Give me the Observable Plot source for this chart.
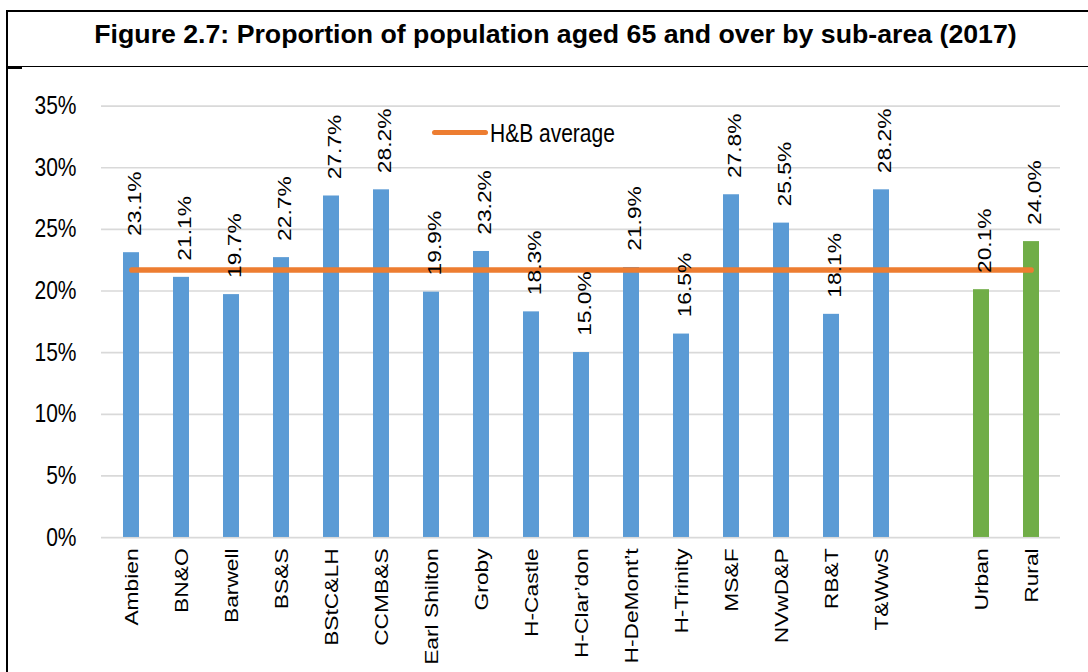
<!DOCTYPE html>
<html>
<head>
<meta charset="utf-8">
<script src="https://cdn.jsdelivr.net/npm/d3@7"></script>
<script src="https://cdn.jsdelivr.net/npm/@observablehq/plot@0.6"></script>
<style>
  body { margin: 0; width: 1088px; height: 672px; overflow: hidden; background: #fff; position: relative;
         font-family: "Liberation Sans", Arial, sans-serif; }
  #frame { position: absolute; left: 6px; top: 10px; width: 1200px; height: 800px;
           border-left: 2px solid #000; border-top: 2px solid #000; }
  #rule { position: absolute; left: 6px; top: 65.5px; width: 1200px; height: 1.5px; background: #000; }
  #notch { position: absolute; left: 6px; top: 66px; width: 16px; height: 2.5px; background: #000; }
  #title { position: absolute; left: 8px; width: 1095px; top: 21px; text-align: center;
           font-weight: bold; font-size: 26.7px; line-height: 26.7px; color: #000; white-space: nowrap; }
  #chart { position: absolute; left: 0; top: 68px; }
  #chart svg { transform: scaleY(1.2); transform-origin: 0 0; display: block; }
  #legend { position: absolute; left: 432px; top: 122px; height: 21px; display: flex; align-items: center; }
  #legend .swatch { width: 56px; height: 5.5px; border-radius: 3px; background: #ED7D31; }
  #legend .label { margin-left: 2px; font-size: 21px; line-height: 21px; color: #000;
                   transform: scaleY(1.2); }
</style>
</head>
<body>
<div id="frame"></div>
<div id="rule"></div>
<div id="notch"></div>
<div id="title">Figure 2.7: Proportion of population aged 65 and over by sub-area (2017)</div>
<div id="chart"></div>
<div id="legend"><div class="swatch"></div><div class="label">H&amp;B average</div></div>
<script>
// Sub-areas of Hinckley & Bosworth and their share of residents aged 65+ (%)
const areaNames = ["Ambien", "BN&O", "Barwell", "BS&S", "BStC&LH", "CCMB&S", "Earl Shilton", "Groby",
  "H-Castle", "H-Clar’don", "H-DeMont’t", "H-Trinity", "MS&F", "NVwD&P", "RB&T", "T&WwS"];
const areaValues = [23.1, 21.1, 19.7, 22.7, 27.7, 28.2, 19.9, 23.2,
  18.3, 15.0, 21.9, 16.5, 27.8, 25.5, 18.1, 28.2];

// Urban / rural split
const summaryNames = ["Urban", "Rural"];
const summaryValues = [20.1, 24.0];

// Borough-wide average
const averageValue = 21.7;

// Axis ticks
const yTicks = [0, 5, 10, 15, 20, 25, 30, 35];
const spacer = " ";

const areaRows = areaNames.map((name, i) => ({name, value: areaValues[i]}));
const summaryRows = summaryNames.map((name, i) => ({name, value: summaryValues[i]}));
const allRows = [...areaRows, ...summaryRows];
const domain = [...areaNames, spacer, ...summaryNames];
const averageRows = domain.map(name => ({name, value: averageValue}));

const chart = Plot.plot({
  width: 1088,
  height: 503,
  marginLeft: 101,
  marginRight: 28,
  marginTop: 31.25,
  marginBottom: 112.2,
  style: {background: "transparent", fontFamily: "'Liberation Sans', Arial, sans-serif", overflow: "visible"},
  x: {type: "band", domain, paddingInner: 0.68, paddingOuter: 0.34},
  y: {domain: [0, 35]},
  marks: [
    Plot.ruleY(yTicks, {stroke: "#d9d9d9", strokeWidth: 1.4}),
    Plot.barY(areaRows, {x: "name", y: "value", fill: "#5B9BD5"}),
    Plot.barY(summaryRows, {x: "name", y: "value", fill: "#70AD47"}),
    Plot.line(averageRows, {x: "name", y: "value", stroke: "#ED7D31", strokeWidth: 4.7, strokeLinecap: "round"}),
    Plot.text(allRows, {x: "name", y: "value", text: d => d.value.toFixed(1) + "%", rotate: -90,
      textAnchor: "start", dy: -14, dx: 3, fontSize: 19, fill: "#000"}),
    Plot.axisY({ticks: yTicks, tickFormat: d => d + "%", tickSize: 0, tickPadding: 25, fontSize: 21,
      fill: "#000", label: null}),
    Plot.axisX({ticks: domain.filter(d => d !== spacer), tickRotate: -90, tickSize: 0, tickPadding: 9,
      fontSize: 19, fill: "#000", label: null})
  ]
});
document.getElementById("chart").appendChild(chart);
</script>
</body>
</html>
